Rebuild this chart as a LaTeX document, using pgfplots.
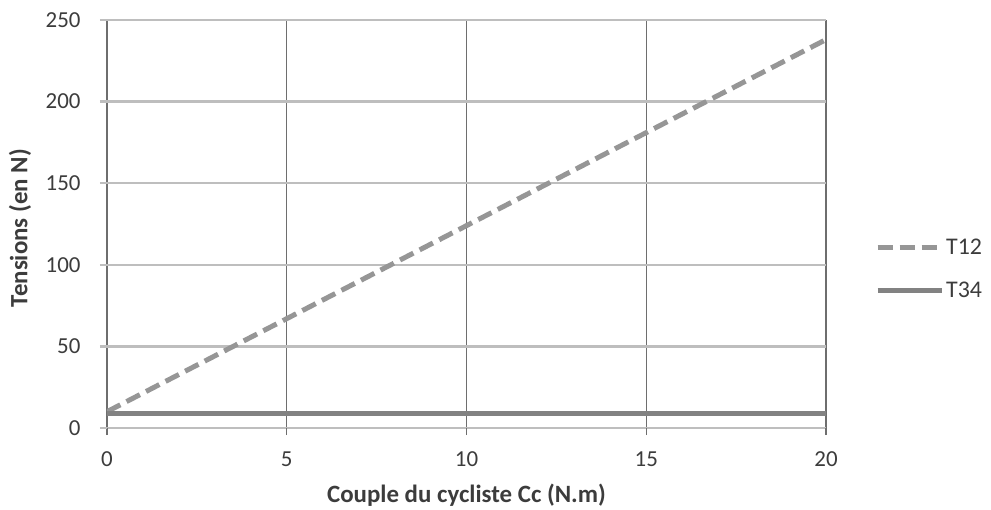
\documentclass[border=0pt]{standalone}
\usepackage{fontspec}
\setmainfont{Carlito}
\usepackage{pgfplots}
\pgfplotsset{compat=1.18}

\definecolor{txt}{RGB}{60,60,60}
\definecolor{hgrid}{RGB}{190,190,190}
\definecolor{vgrid}{RGB}{110,110,110}
\definecolor{tdouze}{RGB}{150,150,150}
\definecolor{ttrente}{RGB}{130,130,130}

\begin{document}
\begin{tikzpicture}
\useasboundingbox (-107bp,-82bp) rectangle (884bp,428bp);
\begin{axis}[
    at={(0,0)}, anchor=south west,
    scale only axis,
    width=719bp, height=408bp,
    xmin=0, xmax=20, ymin=0, ymax=250,
    xtick={0,5,...,20}, ytick={0,50,...,250},
    axis line style={draw=none},
    xmajorgrids, ymajorgrids,
    x grid style={vgrid, line width=1.3bp},
    y grid style={hgrid, line width=2.5bp},
    tick align=outside, tick pos=left,
    major tick length=7bp,
    xtick style={vgrid, line width=1.3bp},
    ytick style={hgrid, line width=2.5bp},
    /pgf/number format/assume math mode=true,
    tick label style={font=\fontsize{23}{26}\selectfont, text=txt},
    xticklabel style={yshift=-13bp},
    yticklabel style={xshift=-16bp},
    xlabel={\textbf{Couple du cycliste Cc (N.m)}},
    ylabel={\textbf{Tensions (en N)}},
    label style={font=\fontsize{25}{28}\selectfont, text=txt},
    xlabel style={at={(axis description cs:0.5,-0.164)}, anchor=center},
    ylabel style={at={(axis description cs:-0.121,0.49)}, anchor=center, rotate=0},
    legend style={draw=none, fill=none, at={(1.064,0.39)}, anchor=west,
        font=\fontsize{24}{27}\selectfont, text=txt, row sep=22bp,
        /tikz/every even column/.append style={column sep=0bp}},
    legend cell align=left,
    legend image code/.code={\draw[#1] (0bp,0bp) -- (64bp,0bp);},
]
\addplot[tdouze, line width=5bp, dash pattern=on 15bp off 7bp] coordinates {
    (0,10) (5,67) (10,124) (15,181) (20,238)
};
\addlegendentry{T12}
\addplot[ttrente, line width=5bp] coordinates {
    (0,9) (5,9) (10,9) (15,9) (20,9)
};
\addlegendentry{T34}
\end{axis}
\end{tikzpicture}
\end{document}
